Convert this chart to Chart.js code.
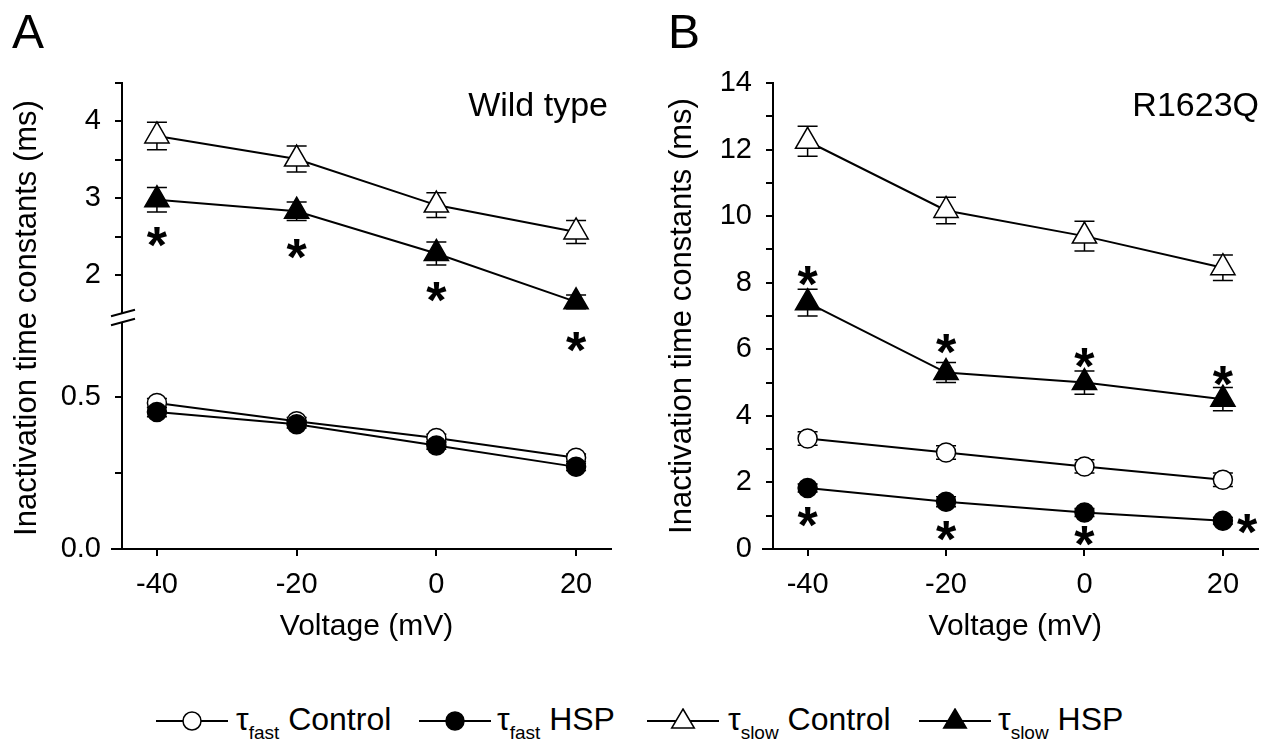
<!DOCTYPE html>
<html>
<head>
<meta charset="utf-8">
<title>Inactivation time constants</title>
<script src="https://cdn.jsdelivr.net/npm/chart.js@4.4.1/dist/chart.umd.min.js"></script>
<style>
  body { margin: 0; background: #fff; }
  #page { position: relative; width: 1273px; height: 744px; overflow: hidden;
          font-family: "Liberation Sans", Arial, sans-serif; color: #000; }
  canvas { position: absolute; top: 0; }
  #chartA { left: 0; }
  #chartB { left: 640px; }
  .txt { position: absolute; line-height: 1; white-space: nowrap; }
  .panel { font-size: 48px; top: 8px; }
  .label { font-size: 34px; top: 87px; }
  .key { position: absolute; top: 708px; }
  .keytext { font-size: 32px; top: 703px; }
  .keytext sub { font-size: 19px; vertical-align: -9px; line-height: 1; }
</style>
</head>
<body>
<div id="page">
  <canvas id="chartA" width="640" height="680"></canvas>
  <canvas id="chartB" width="633" height="680"></canvas>

  <div class="txt panel" style="left:12px">A</div>
  <div class="txt panel" style="left:668px">B</div>
  <div class="txt label" style="right:665px">Wild type</div>
  <div class="txt label" style="right:14px">R1623Q</div>

  <!-- legend -->
  <svg class="key" style="left:156px" width="72" height="26">
    <line x1="0" y1="13" x2="72" y2="13" stroke="#000" stroke-width="2"/>
    <circle cx="36" cy="13" r="9" fill="#fff" stroke="#000" stroke-width="1.5"/>
  </svg>
  <div class="txt keytext" style="left:236px">&tau;<sub>fast</sub> Control</div>

  <svg class="key" style="left:419px" width="72" height="26">
    <line x1="0" y1="13" x2="72" y2="13" stroke="#000" stroke-width="2"/>
    <circle cx="36" cy="13" r="9" fill="#000" stroke="#000" stroke-width="1.5"/>
  </svg>
  <div class="txt keytext" style="left:497px">&tau;<sub>fast</sub> HSP</div>

  <svg class="key" style="left:647px" width="72" height="26">
    <line x1="0" y1="13" x2="72" y2="13" stroke="#000" stroke-width="2"/>
    <polygon points="36,1 47.3,20 24.7,20" fill="#fff" stroke="#000" stroke-width="1.5"/>
  </svg>
  <div class="txt keytext" style="left:728px">&tau;<sub>slow</sub> Control</div>

  <svg class="key" style="left:919px" width="72" height="26">
    <line x1="0" y1="13" x2="72" y2="13" stroke="#000" stroke-width="2"/>
    <polygon points="36,1 47.3,20 24.7,20" fill="#000" stroke="#000" stroke-width="1.5"/>
  </svg>
  <div class="txt keytext" style="left:998px">&tau;<sub>slow</sub> HSP</div>
</div>

<script>
// DATA

const voltages = [-40, -20, 0, 20];
const voltTicks = [-40, -20, 0, 20];
const voltLabels = ['-40', '-20', '0', '20'];

// wild type (panel A)
const wtFastCtrl = [0.48, 0.42, 0.365, 0.30];
const wtFastCtrlErr = [0.015, 0.012, 0.012, 0.012];
const wtFastHsp = [0.45, 0.41, 0.34, 0.27];
const wtFastHspErr = [0.015, 0.012, 0.012, 0.012];
const wtSlowCtrl = [3.81, 3.51, 2.91, 2.56];
const wtSlowCtrlErr = [0.18, 0.17, 0.16, 0.15];
const wtSlowHsp = [2.98, 2.83, 2.28, 1.65];
const wtSlowHspErr = [0.16, 0.12, 0.15, 0.09];

// broken y axis of panel A
const wtTopTicks = [2, 2.5, 3, 3.5, 4, 4.5];
const wtTopLabels = ['2', '', '3', '', '4', ''];
const wtBotTicks = [0, 0.25, 0.5];
const wtBotLabels = ['0.0', '', '0.5'];

// significance marks, upper axis units
const wtStars = [[-40, 2.48], [-20, 2.33], [0, 1.76], [20, 1.11]];

// R1623Q (panel B)
const mutFastCtrl = [3.32, 2.9, 2.48, 2.08];
const mutFastCtrlErr = [0.2, 0.2, 0.2, 0.2];
const mutFastHsp = [1.83, 1.42, 1.1, 0.85];
const mutFastHspErr = [0.12, 0.15, 0.12, 0.1];
const mutSlowCtrl = [12.25, 10.17, 9.4, 8.45];
const mutSlowCtrlErr = [0.45, 0.4, 0.45, 0.38];
const mutSlowHsp = [7.4, 5.3, 5.0, 4.5];
const mutSlowHspErr = [0.4, 0.3, 0.35, 0.35];

const mutTicks = [0, 1, 2, 3, 4, 5, 6, 7, 8, 9, 10, 11, 12, 13, 14];
const mutLabels = ['0', '', '2', '', '4', '', '6', '', '8', '', '10', '', '12', '', '14'];

const mutStars = [[-40, 8.17], [-20, 6.13], [0, 5.7], [20, 5.17],
                  [-40, 0.93], [-20, 0.51], [0, 0.36], [23.5, 0.72]];

const xTitle = 'Voltage (mV)';
const yTitle = 'Inactivation time constants (ms)';

const FONT = '"Liberation Sans", Arial, sans-serif';

Chart.defaults.font.family = FONT;
Chart.defaults.color = '#000';


// HELPERS

function series(label, values, errors, style, fill, axis) {
    const r = style === 'triangle' ? 14 : 9.5;
    return {
        label: label,
        data: voltages.map((v, i) => ({ x: v, y: values[i] })),
        errors: errors,
        yAxisID: axis,
        borderColor: '#000',
        borderWidth: 2,
        pointStyle: style,
        pointRadius: r,
        pointHoverRadius: r,
        pointBackgroundColor: fill,
        pointBorderColor: '#000',
        pointBorderWidth: 1.5,
        tension: 0,
        clip: false
    };
}

function voltageAxis() {
    return {
        type: 'linear',
        min: -45,
        max: 25,
        afterBuildTicks: s => { s.ticks = voltTicks.map(v => ({ value: v })); },
        afterFit: s => { s.height = 131; },
        border: { color: '#000', width: 2 },
        grid: { drawOnChartArea: false, tickLength: 7, color: '#000', lineWidth: 2 },
        ticks: {
            color: '#000', font: { size: 29 }, padding: 12,
            maxRotation: 0, autoSkip: false,
            callback: (v, i) => voltLabels[i]
        },
        title: {
            display: true, text: xTitle, color: '#000',
            font: { size: 30 }, padding: { top: 0, bottom: 35 }
        }
    };
}

function valueAxis(min, max, tickVals, tickLabels, width) {
    return {
        type: 'linear',
        position: 'left',
        min: min,
        max: max,
        afterBuildTicks: s => { s.ticks = tickVals.map(v => ({ value: v })); },
        afterFit: s => { s.width = width; },
        border: { color: '#000', width: 2 },
        grid: { drawOnChartArea: false, tickLength: 7, color: '#000', lineWidth: 2 },
        ticks: {
            color: '#000', font: { size: 29 }, padding: 14, autoSkip: false,
            callback: (v, i) => tickLabels[i]
        }
    };
}

// error bars, drawn under the markers
const errorBars = {
    id: 'errorBars',
    beforeDatasetsDraw(chart) {
        const ctx = chart.ctx;
        ctx.save();
        ctx.strokeStyle = '#000';
        ctx.lineWidth = 1.5;
        chart.data.datasets.forEach((ds, d) => {
            const meta = chart.getDatasetMeta(d);
            const scale = chart.scales[meta.yAxisID];
            meta.data.forEach((pt, i) => {
                const v = ds.data[i].y;
                const e = ds.errors[i];
                const top = scale.getPixelForValue(v + e);
                const bot = scale.getPixelForValue(v - e);
                ctx.beginPath();
                ctx.moveTo(pt.x, top); ctx.lineTo(pt.x, bot);
                ctx.moveTo(pt.x - 10, top); ctx.lineTo(pt.x + 10, top);
                ctx.moveTo(pt.x - 10, bot); ctx.lineTo(pt.x + 10, bot);
                ctx.stroke();
            });
        });
        ctx.restore();
    }
};

function starsPlugin(points, axisId) {
    return {
        id: 'stars',
        afterDraw(chart) {
            const ctx = chart.ctx;
            const xs = chart.scales.x;
            const ys = chart.scales[axisId];
            const size = 52;
            ctx.save();
            ctx.font = 'bold ' + size + 'px ' + FONT;
            ctx.fillStyle = '#000';
            ctx.textAlign = 'center';
            ctx.textBaseline = 'alphabetic';
            points.forEach(p => {
                ctx.fillText('*', xs.getPixelForValue(p[0]), ys.getPixelForValue(p[1]) + 0.48 * size);
            });
            ctx.restore();
        }
    };
}

// little stub of the x axis left of the y axis
const axisStub = {
    id: 'axisStub',
    afterDraw(chart) {
        const { ctx, chartArea } = chart;
        ctx.save();
        ctx.strokeStyle = '#000';
        ctx.lineWidth = 2;
        ctx.beginPath();
        ctx.moveTo(chartArea.left - 11, chartArea.bottom);
        ctx.lineTo(chartArea.left, chartArea.bottom);
        ctx.stroke();
        ctx.restore();
    }
};

// axis break + y title for panel A
const brokenAxis = {
    id: 'brokenAxis',
    afterDraw(chart) {
        const { ctx, chartArea } = chart;
        const x = chartArea.left;
        const mid = chart.scales.yTop.bottom + 1.5;

        ctx.save();
        ctx.fillStyle = '#fff';
        ctx.beginPath();
        ctx.moveTo(x - 5, mid - 4.5 + 1.4);
        ctx.lineTo(x + 5, mid - 4.5 - 1.4);
        ctx.lineTo(x + 5, mid + 4.5 - 1.4);
        ctx.lineTo(x - 5, mid + 4.5 + 1.4);
        ctx.closePath();
        ctx.fill();

        ctx.strokeStyle = '#000';
        ctx.lineWidth = 2;
        [-4.5, 4.5].forEach(off => {
            ctx.beginPath();
            ctx.moveTo(x - 11, mid + off + 3.3);
            ctx.lineTo(x + 13, mid + off - 3.3);
            ctx.stroke();
        });

        ctx.translate(27, (chartArea.top + chartArea.bottom) / 2 + 2);
        ctx.rotate(-Math.PI / 2);
        ctx.font = '31px ' + FONT;
        ctx.fillStyle = '#000';
        ctx.textAlign = 'center';
        ctx.textBaseline = 'middle';
        ctx.fillText(yTitle, 0, 0);
        ctx.restore();
    }
};


// PANEL A

// stacked axes: the one listed last sits on top
const botAxis = valueAxis(0, 0.766, wtBotTicks, wtBotLabels, 122);
botAxis.stack = 'wt';
botAxis.stackWeight = 1;

const topAxis = valueAxis(1.466, 4.5, wtTopTicks, wtTopLabels, 122);
topAxis.stack = 'wt';
topAxis.stackWeight = 1;

new Chart(document.getElementById('chartA'), {

    type: 'line',

    data: {
        datasets: [
            series('τfast HSP', wtFastHsp, wtFastHspErr, 'circle', '#000', 'yBot'),
            series('τfast Control', wtFastCtrl, wtFastCtrlErr, 'circle', '#fff', 'yBot'),
            series('τslow HSP', wtSlowHsp, wtSlowHspErr, 'triangle', '#000', 'yTop'),
            series('τslow Control', wtSlowCtrl, wtSlowCtrlErr, 'triangle', '#fff', 'yTop')
        ]
    },

    options: {
        responsive: false,
        animation: false,
        devicePixelRatio: 1,
        layout: { padding: { top: 83, right: 29, bottom: 0, left: 0 } },
        plugins: {
            legend: { display: false },
            tooltip: { enabled: false }
        },
        scales: {
            x: voltageAxis(),
            yBot: botAxis,
            yTop: topAxis
        }
    },

    plugins: [errorBars, axisStub, brokenAxis, starsPlugin(wtStars, 'yTop')]

});


// PANEL B

const mutAxis = valueAxis(0, 14, mutTicks, mutLabels, 133);
mutAxis.title = {
    display: true, text: yTitle, color: '#000',
    font: { size: 31 }, padding: { top: 24, bottom: 0 }
};

new Chart(document.getElementById('chartB'), {

    type: 'line',

    data: {
        datasets: [
            series('τfast HSP', mutFastHsp, mutFastHspErr, 'circle', '#000', 'y'),
            series('τfast Control', mutFastCtrl, mutFastCtrlErr, 'circle', '#fff', 'y'),
            series('τslow HSP', mutSlowHsp, mutSlowHspErr, 'triangle', '#000', 'y'),
            series('τslow Control', mutSlowCtrl, mutSlowCtrlErr, 'triangle', '#fff', 'y')
        ]
    },

    options: {
        responsive: false,
        animation: false,
        devicePixelRatio: 1,
        layout: { padding: { top: 83, right: 12, bottom: 0, left: 0 } },
        plugins: {
            legend: { display: false },
            tooltip: { enabled: false }
        },
        scales: {
            x: voltageAxis(),
            y: mutAxis
        }
    },

    plugins: [errorBars, axisStub, starsPlugin(mutStars, 'y')]

});
</script>
</body>
</html>
